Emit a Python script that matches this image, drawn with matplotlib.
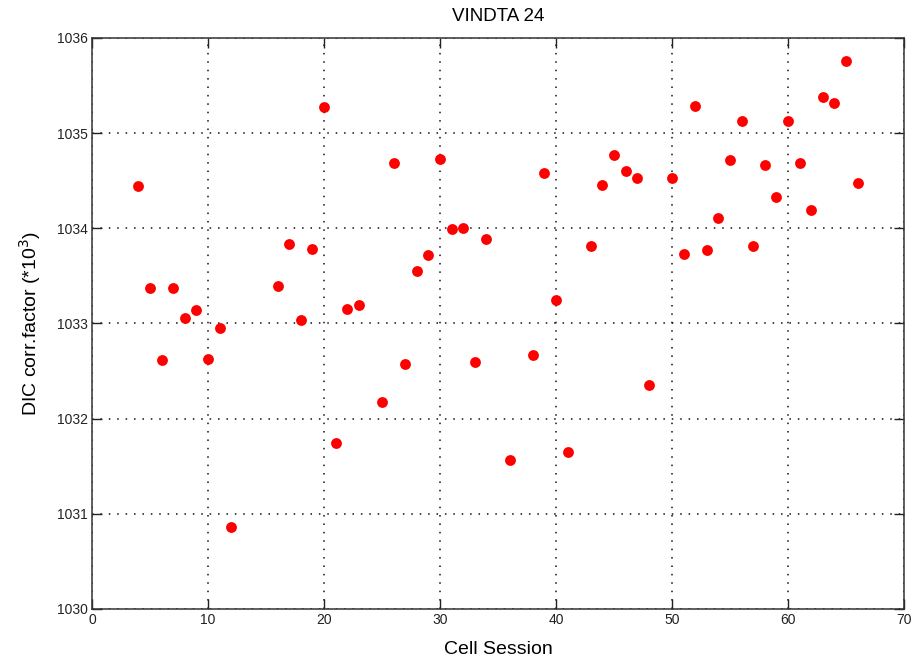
import matplotlib
matplotlib.use('Agg')
import matplotlib.pyplot as plt

# cell session number and DIC correction factor
session = [4, 5, 6, 7, 8, 9, 10, 11, 12, 16, 17, 18, 19, 20, 21, 22, 23,
           25, 26, 27, 28, 29, 30, 31, 32, 33, 34, 36, 38, 39, 40, 41, 43,
           44, 45, 46, 47, 48, 50, 51, 52, 53, 54, 55, 56, 57, 58, 59, 60,
           61, 62, 63, 64, 65, 66]
corr_factor = [1034.44, 1033.37, 1032.62, 1033.37, 1033.06, 1033.14, 1032.63,
               1032.95, 1030.86, 1033.39, 1033.83, 1033.04, 1033.78, 1035.27,
               1031.74, 1033.15, 1033.19, 1032.18, 1034.69, 1032.57, 1033.55,
               1033.72, 1034.73, 1033.99, 1034.00, 1032.60, 1033.89, 1031.57,
               1032.67, 1034.58, 1033.25, 1031.65, 1033.81, 1034.45, 1034.77,
               1034.60, 1034.53, 1032.35, 1034.53, 1033.73, 1035.29, 1033.77,
               1034.11, 1034.72, 1035.13, 1033.81, 1034.66, 1034.33, 1035.13,
               1034.69, 1034.19, 1035.38, 1035.32, 1035.76, 1034.48]

plt.rcParams['font.family'] = ['Liberation Sans', 'DejaVu Sans']

fig = plt.figure(figsize=(9.13, 6.66), dpi=100)
ax = fig.add_axes([0.1008, 0.0856, 0.8894, 0.8574])

ax.plot(session, corr_factor, 'o', color='#ff0000', markersize=7.8,
        markeredgewidth=0, linestyle='none')

ax.set_xlim(0, 70)
ax.set_ylim(1030, 1036)
ax.set_xticks(range(0, 71, 10))
ax.set_yticks(range(1030, 1037))

# sparse dotted grid like the original
ax.grid(True, linestyle=(0, (1, 4.5)), color='#111111', linewidth=1.1)
ax.tick_params(direction='in', length=7, width=1, top=True, right=True,
               labelsize=10, colors='#222222', pad=3)
for s in ax.spines.values():
    s.set_color('#333333')
    s.set_linewidth(1.1)

ax.set_title('VINDTA 24', fontsize=13.5, pad=12)
ax.set_xlabel('Cell Session', fontsize=14, labelpad=10)
ax.set_ylabel('DIC corr.factor (*10$^3$)', fontsize=14, labelpad=10)

fig.savefig('out.png', dpi=100)
